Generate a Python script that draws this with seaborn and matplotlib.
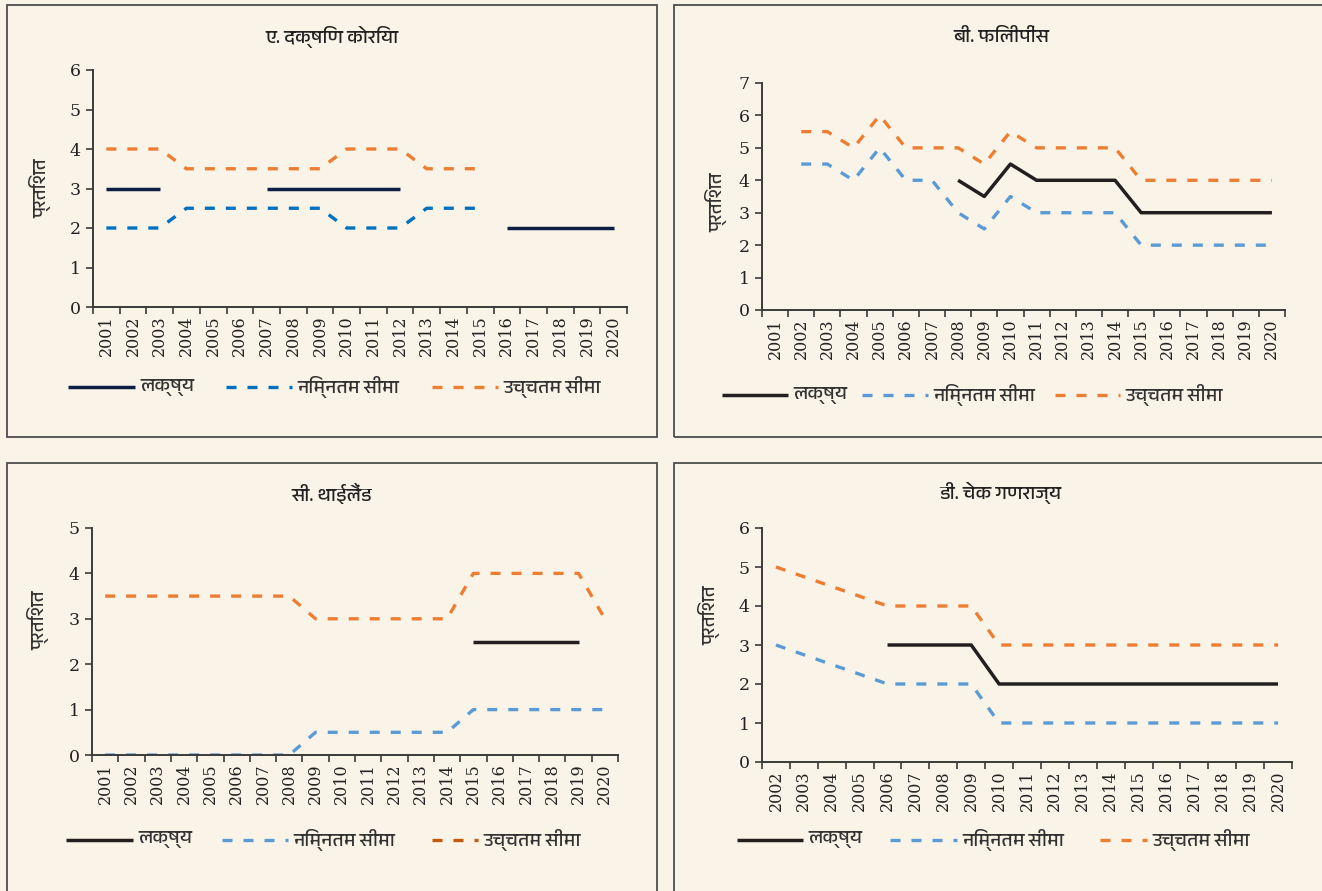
import numpy as np
import pandas as pd
import matplotlib
matplotlib.use('Agg')
import matplotlib.pyplot as plt
from matplotlib import font_manager
from matplotlib.lines import Line2D
from matplotlib.patches import Rectangle
import seaborn as sns

# ── データ ───────────────────────────────────────────────
nan = np.nan
YEARS_A = [2001, 2002, 2003, 2004, 2005, 2006, 2007, 2008, 2009, 2010,
           2011, 2012, 2013, 2014, 2015, 2016, 2017, 2018, 2019, 2020]
YEARS_D = [2002, 2003, 2004, 2005, 2006, 2007, 2008, 2009, 2010,
           2011, 2012, 2013, 2014, 2015, 2016, 2017, 2018, 2019, 2020]

kor_target = [3, 3, 3, nan, nan, nan, 3, 3, 3, 3, 3, 3, nan, nan, nan, 2, 2, 2, 2, 2]
kor_low    = [2, 2, 2, 2.5, 2.5, 2.5, 2.5, 2.5, 2.5, 2, 2, 2, 2.5, 2.5, 2.5, nan, nan, nan, nan, nan]
kor_high   = [4, 4, 4, 3.5, 3.5, 3.5, 3.5, 3.5, 3.5, 4, 4, 4, 3.5, 3.5, 3.5, nan, nan, nan, nan, nan]

phl_target = [nan, nan, nan, nan, nan, nan, nan, 4, 3.5, 4.5, 4, 4, 4, 4, 3, 3, 3, 3, 3, 3]
phl_low    = [nan, 4.5, 4.5, 4, 5, 4, 4, 3, 2.5, 3.5, 3, 3, 3, 3, 2, 2, 2, 2, 2, 2]
phl_high   = [nan, 5.5, 5.5, 5, 6, 5, 5, 5, 4.5, 5.5, 5, 5, 5, 5, 4, 4, 4, 4, 4, 4]

tha_target = [nan, nan, nan, nan, nan, nan, nan, nan, nan, nan, nan, nan, nan, nan,
              2.5, 2.5, 2.5, 2.5, 2.5, nan]
tha_low    = [0, 0, 0, 0, 0, 0, 0, 0, 0.5, 0.5, 0.5, 0.5, 0.5, 0.5, 1, 1, 1, 1, 1, 1]
tha_high   = [3.5, 3.5, 3.5, 3.5, 3.5, 3.5, 3.5, 3.5, 3, 3, 3, 3, 3, 3, 4, 4, 4, 4, 4, 3]

cze_target = [nan, nan, nan, nan, 3, 3, 3, 3, 2, 2, 2, 2, 2, 2, 2, 2, 2, 2, 2]
cze_low    = [3, 2.75, 2.5, 2.25, 2, 2, 2, 2, 1, 1, 1, 1, 1, 1, 1, 1, 1, 1, 1]
cze_high   = [5, 4.75, 4.5, 4.25, 4, 4, 4, 4, 3, 3, 3, 3, 3, 3, 3, 3, 3, 3, 3]

TITLES = ['ए. दक्षिण कोरिया', 'बी. फिलीपींस', 'सी. थाईलैंड', 'डी. चेक गणराज्य']
YLABEL = 'प्रतिशत'
LEG_LABELS = ['लक्ष्य', 'निम्नतम सीमा', 'उच्चतम सीमा']

# ── スタイル ─────────────────────────────────────────────
W, H = 1322, 891
BG = '#FAF4E8'
AXC = '#3a3a3a'

sns.set_theme(style='ticks')


def find_deva():
    try:
        from fontTools.ttLib import TTFont
    except Exception:
        return None
    cands = sorted(font_manager.fontManager.ttflist,
                   key=lambda f: 0 if 'Devanagari' in f.name else 1)
    for f in cands:
        try:
            tt = TTFont(f.fname, fontNumber=0, lazy=True)
            if 0x0915 in tt.getBestCmap():
                return f.name
        except Exception:
            pass
    return None


DEVA = find_deva()
HFAM = ([DEVA] if DEVA else []) + ['Noto Sans', 'DejaVu Sans']
plt.rcParams['font.family'] = ['DejaVu Serif']

fig = plt.figure(figsize=(W / 100, H / 100), dpi=100, facecolor=BG)


def px_rect(l, t, r, b):
    return [l / W, 1 - b / H, (r - l) / W, (b - t) / H]


def fx(x):
    return x / W


def fy(y):
    return 1 - y / H


DASH = (0, (3.0, 3.3))


def draw_series(ax, vals, color, dashed):
    d = pd.DataFrame({'x': np.arange(len(vals)), 'y': vals})
    d['seg'] = d['y'].isna().cumsum()
    d = d.dropna()
    kw = dict(linestyle=DASH, dash_capstyle='butt') if dashed else dict(solid_capstyle='butt')
    sns.lineplot(data=d, x='x', y='y', units='seg', estimator=None, color=color,
                 linewidth=2.4 if dashed else 2.5, ax=ax, legend=False, **kw)


panels = [
    dict(box=(7, 5, 657, 437), ax=(93, 70, 627, 307), ymax=6, years=YEARS_A,
         series=[(kor_target, '#0E1E45', False), (kor_low, '#0070C0', True), (kor_high, '#ED7D31', True)],
         legcol=['#0E1E45', '#0070C0', '#ED7D31'],
         title=(332, 37), ylab=(40, 188), leg_y=387,
         leg_x=[(68, 135), (226, 292), (432, 498)]),
    dict(box=(674, 5, 1330, 437), ax=(762, 83, 1285, 310), ymax=7, years=YEARS_A,
         series=[(phl_target, '#231F20', False), (phl_low, '#5B9BD5', True), (phl_high, '#ED7D31', True)],
         legcol=['#231F20', '#5B9BD5', '#ED7D31'],
         title=(1001, 37), ylab=(716, 202), leg_y=395,
         leg_x=[(722, 788), (862, 928), (1055, 1120)]),
    dict(box=(7, 463, 657, 900), ax=(92, 528, 618, 755), ymax=5, years=YEARS_A,
         series=[(tha_target, '#231F20', False), (tha_low, '#5B9BD5', True), (tha_high, '#ED7D31', True)],
         legcol=['#231F20', '#5B9BD5', '#C55A11'],
         title=(332, 493), ylab=(38, 620), leg_y=840,
         leg_x=[(66, 133), (222, 288), (432, 478)]),
    dict(box=(674, 463, 1330, 900), ax=(762, 528, 1292, 762), ymax=6, years=YEARS_D,
         series=[(cze_target, '#231F20', False), (cze_low, '#5B9BD5', True), (cze_high, '#ED7D31', True)],
         legcol=['#231F20', '#5B9BD5', '#ED7D31'],
         title=(1000, 493), ylab=(709, 615), leg_y=840,
         leg_x=[(737, 803), (890, 957), (1100, 1147)]),
]

for i, p in enumerate(panels):
    # パネル枠
    l, t, r, b = p['box']
    fig.patches.append(Rectangle((fx(l), fy(b)), (r - l) / W, (b - t) / H,
                                 transform=fig.transFigure, fill=False,
                                 edgecolor='#4d4d4d', linewidth=1.3, zorder=0))

    ax = fig.add_axes(px_rect(*p['ax']))
    ax.set_facecolor('none')
    n = len(p['years'])
    for vals, color, dashed in p['series']:
        draw_series(ax, vals, color, dashed)

    ax.set_xlim(-0.5, n - 0.5)
    ax.set_ylim(0, p['ymax'])
    ax.set_yticks(range(p['ymax'] + 1))
    ax.set_xticks(np.arange(n))
    ax.set_xticklabels([str(y) for y in p['years']], rotation=90)
    ax.set_xticks(np.arange(n + 1) - 0.5, minor=True)
    ax.tick_params(axis='x', which='major', length=0, pad=6, labelsize=11.5, labelcolor='#222222')
    ax.tick_params(axis='x', which='minor', length=5, width=1.2, color=AXC, direction='out')
    ax.tick_params(axis='y', length=5, width=1.2, color=AXC, pad=4, labelsize=12.5, labelcolor='#222222')
    for s in ['top', 'right']:
        ax.spines[s].set_visible(False)
    for s in ['left', 'bottom']:
        ax.spines[s].set_color(AXC)
        ax.spines[s].set_linewidth(1.4)
    ax.set_xlabel('')
    ax.set_ylabel('')

    # タイトル・軸ラベル
    fig.text(fx(p['title'][0]), fy(p['title'][1]), TITLES[i], ha='center', va='center',
             fontsize=14, fontweight='bold', color='#222222', family=HFAM)
    fig.text(fx(p['ylab'][0]), fy(p['ylab'][1]), YLABEL, ha='center', va='center',
             rotation=90, fontsize=13.5, color='#333333', family=HFAM)

    # 凡例
    ly = fy(p['leg_y'])
    for k, ((x0, x1), col) in enumerate(zip(p['leg_x'], p['legcol'])):
        if k == 0:
            ln = Line2D([fx(x0), fx(x1)], [ly, ly], color=col, linewidth=2.5,
                        solid_capstyle='butt', transform=fig.transFigure)
        else:
            ln = Line2D([fx(x0), fx(x1)], [ly, ly], color=col, linewidth=2.4,
                        linestyle=DASH, dash_capstyle='butt', transform=fig.transFigure)
        fig.lines.append(ln)
        fig.text(fx(x1 + 5), ly, LEG_LABELS[k], ha='left', va='center',
                 fontsize=14, color='#333333', family=HFAM)

fig.savefig('out.png', dpi=100, facecolor=BG)
